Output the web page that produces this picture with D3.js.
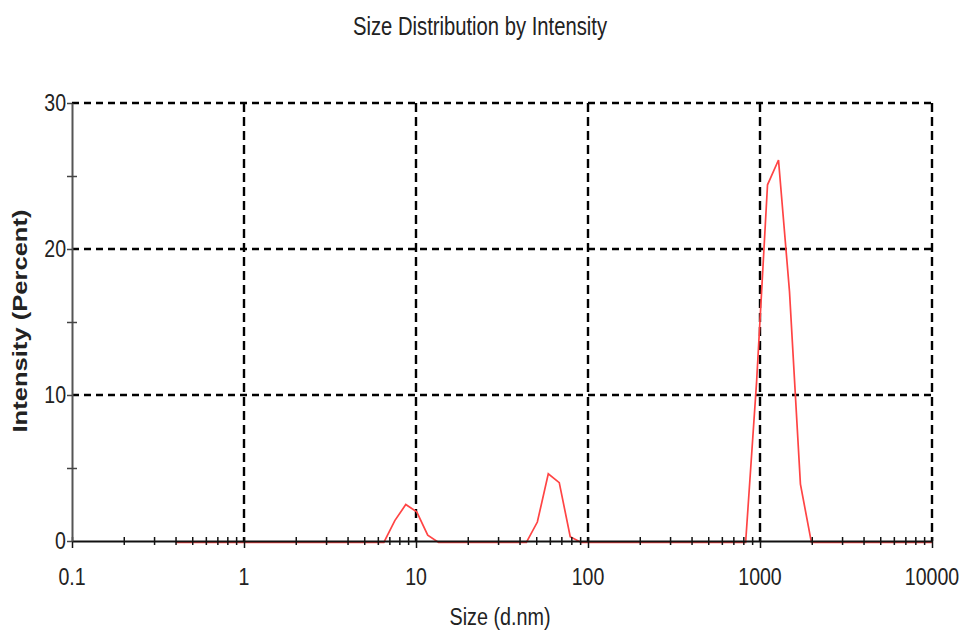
<!DOCTYPE html>
<html>
<head>
<meta charset="utf-8">
<script src="https://cdn.jsdelivr.net/npm/d3@7"></script>
<style>
    body { margin: 0; background: #fff; }
    text { font-family: "Liberation Sans", Arial, sans-serif; fill: #222; }
</style>
</head>
<body>
<div id="chart"></div>
<script>
// size bins (d.nm)
var sizes = [0.4, 0.4632, 0.5365, 0.6213, 0.7195, 0.8332, 0.9649, 1.117, 1.294, 1.499,
    1.736, 2.010, 2.328, 2.696, 3.122, 3.615, 4.187, 4.849, 5.615, 6.503,
    7.531, 8.721, 10.10, 11.70, 13.54, 15.69, 18.17, 21.04, 24.36, 28.21,
    32.67, 37.84, 43.82, 50.75, 58.77, 68.06, 78.82, 91.28, 105.7, 122.4,
    141.8, 164.2, 190.1, 220.2, 255.0, 295.3, 342.0, 396.1, 458.7, 531.2,
    615.1, 712.4, 825.0, 955.4, 1106, 1281, 1484, 1718, 1990, 2305,
    2669, 3091, 3580, 4145, 4801, 5560, 6439, 7456, 8635, 10000];

// intensity (percent) for each bin
var intensity = [0, 0, 0, 0, 0, 0, 0, 0, 0, 0,
    0, 0, 0, 0, 0, 0, 0, 0, 0, 0,
    1.5, 2.6, 2.1, 0.5, 0, 0, 0, 0, 0, 0,
    0, 0, 0, 1.4, 4.7, 4.1, 0.4, 0, 0, 0,
    0, 0, 0, 0, 0, 0, 0, 0, 0, 0,
    0, 0, 0, 11.0, 24.5, 26.2, 17.2, 4.0, 0, 0,
    0, 0, 0, 0, 0, 0, 0, 0, 0, 0];

var xTickValues = [0.1, 1, 10, 100, 1000, 10000];
var xTickLabels = ["0.1", "1", "10", "100", "1000", "10000"];
var yTickValues = [0, 10, 20, 30];
var yTickLabels = ["0", "10", "20", "30"];
var yMinorTicks = [5, 15, 25];

var svgWidth = 964;
var svgHeight = 630;

var margin = {
    top: 103,
    right: 32,
    bottom: 89,
    left: 72
};

var width = svgWidth - margin.left - margin.right;
var height = svgHeight - margin.top - margin.bottom;

var svg = d3.select("#chart")
    .append("svg")
    .attr("width", svgWidth)
    .attr("height", svgHeight);

var chartGroup = svg.append("g")
    .attr("transform", `translate(${margin.left}, ${margin.top})`);

var x = d3.scaleLog()
    .domain([0.1, 10000])
    .range([0, width]);

var y = d3.scaleLinear()
    .domain([0, 30])
    .range([height, 0]);

// dashed grid (also draws the top and right border)
chartGroup.selectAll(".vgrid")
    .data(xTickValues.slice(1))
    .enter()
    .append("line")
    .attr("x1", d => x(d))
    .attr("x2", d => x(d))
    .attr("y1", 0)
    .attr("y2", height)
    .attr("stroke", "#000")
    .attr("stroke-width", 2.4)
    .attr("stroke-dasharray", "9,5");

chartGroup.selectAll(".hgrid")
    .data(yTickValues.slice(1))
    .enter()
    .append("line")
    .attr("x1", 0)
    .attr("x2", width)
    .attr("y1", d => y(d))
    .attr("y2", d => y(d))
    .attr("stroke", "#000")
    .attr("stroke-width", 2.4)
    .attr("stroke-dasharray", "7,5");

// distribution curve
var points = sizes.map((s, i) => [s, intensity[i]]);

var line = d3.line()
    .x(d => x(d[0]))
    .y(d => y(d[1]) + 1.5);

chartGroup.append("path")
    .datum(points)
    .attr("fill", "none")
    .attr("stroke", "#ff4444")
    .attr("stroke-width", 1.7)
    .attr("d", line);

// bottom axis with major ticks
var bottomAxis = d3.axisBottom(x)
    .tickValues(xTickValues)
    .tickSizeInner(7)
    .tickSizeOuter(0)
    .tickFormat("");

var xAxis = chartGroup.append("g")
    .attr("transform", `translate(0, ${height})`)
    .call(bottomAxis);

xAxis.select(".domain").attr("stroke", "#111").attr("stroke-width", 2);
xAxis.selectAll(".tick line")
    .attr("y1", -4)
    .attr("stroke", "#111")
    .attr("stroke-width", 1.5);

// minor x ticks crossing the axis
var minorX = x.ticks().filter(d => xTickValues.indexOf(d) < 0);
var xMinor = chartGroup.append("g")
    .attr("transform", `translate(0, ${height})`)
    .call(d3.axisBottom(x).tickValues(minorX).tickSizeInner(4).tickSizeOuter(0).tickFormat(""));
xMinor.select(".domain").remove();
xMinor.selectAll(".tick line")
    .attr("y1", -4)
    .attr("stroke", "#111")
    .attr("stroke-width", 1.5);

// left axis
var leftAxis = d3.axisLeft(y)
    .tickValues(yTickValues)
    .tickSizeInner(5)
    .tickSizeOuter(0)
    .tickFormat("");

var yAxis = chartGroup.append("g").call(leftAxis);
yAxis.select(".domain").attr("stroke", "#555").attr("stroke-width", 2);
yAxis.selectAll(".tick line").attr("stroke", "#444").attr("stroke-width", 1.5);

var yMinor = chartGroup.append("g")
    .call(d3.axisLeft(y).tickValues(yMinorTicks).tickSizeInner(5).tickSizeOuter(0).tickFormat(""));
yMinor.select(".domain").remove();
yMinor.selectAll(".tick line")
    .attr("x2", 5)
    .attr("x1", -5)
    .attr("stroke", "#444")
    .attr("stroke-width", 1.5);

// tick labels (narrow face)
chartGroup.selectAll(".xlabel")
    .data(xTickValues)
    .enter()
    .append("text")
    .attr("transform", d => `translate(${x(d)}, ${height + 44}) scale(0.85, 1)`)
    .attr("text-anchor", "middle")
    .style("font-size", "23px")
    .text((d, i) => xTickLabels[i]);

chartGroup.selectAll(".ylabel")
    .data(yTickValues)
    .enter()
    .append("text")
    .attr("transform", d => `translate(-6, ${y(d) + 8}) scale(0.85, 1)`)
    .attr("text-anchor", "end")
    .style("font-size", "23px")
    .text((d, i) => yTickLabels[i]);

// titles
svg.append("text")
    .attr("x", 480)
    .attr("y", 35)
    .attr("text-anchor", "middle")
    .attr("textLength", 254)
    .attr("lengthAdjust", "spacingAndGlyphs")
    .style("font-size", "25px")
    .text("Size Distribution by Intensity");

svg.append("text")
    .attr("x", 500)
    .attr("y", 625)
    .attr("text-anchor", "middle")
    .attr("textLength", 101)
    .attr("lengthAdjust", "spacingAndGlyphs")
    .style("font-size", "23px")
    .text("Size (d.nm)");

svg.append("text")
    .attr("transform", "translate(27, 321) rotate(-90)")
    .attr("text-anchor", "middle")
    .attr("textLength", 223)
    .attr("lengthAdjust", "spacingAndGlyphs")
    .style("font-size", "21px")
    .style("font-weight", "bold")
    .text("Intensity (Percent)");
</script>
</body>
</html>
